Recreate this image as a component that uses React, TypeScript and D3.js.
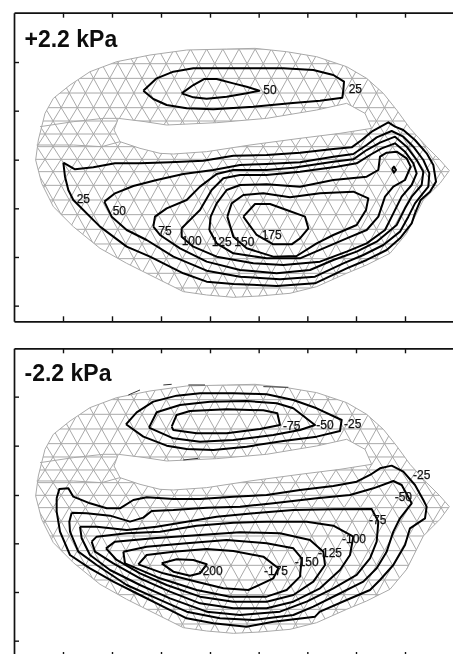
import { useEffect, useRef } from 'react';
import * as d3 from 'd3';

type Pt = [number, number];

// Everything is digitised in one arbitrary unit: the axes carry no numbers.
const xTicks = [189, 336, 483, 630, 776, 922, 1068, 1215];
const yTicksTop = [186, 332, 479, 625, 771, 917];
const yTicksBottom = [215, 362, 510, 655, 801, 947];

// Mesh outline and the slit between the two lobes
const meshOuter: Pt[] = [[107, 480], [115, 420], [135, 340], [160, 295], [210, 255], [270, 215], [350, 185], [450, 165], [560, 150], [680, 147], [765, 145], [860, 155], [950, 170], [1040, 200], [1100, 235], [1150, 280], [1190, 330], [1230, 385], [1280, 440], [1320, 480], [1348, 512], [1320, 550], [1270, 600], [1240, 660], [1220, 700], [1170, 760], [1100, 795], [1040, 820], [950, 860], [870, 880], [780, 888], [700, 892], [620, 885], [550, 875], [470, 835], [380, 790], [300, 745], [220, 680], [160, 620], [125, 550]];
const meshSlit: Pt[] = [[355, 355], [435, 365], [500, 375], [650, 368], [800, 355], [950, 330], [1040, 310], [1095, 340], [1115, 385], [1020, 400], [900, 415], [750, 435], [620, 455], [520, 462], [480, 460], [420, 445], [360, 425], [342, 390]];
const meshCurves: Pt[][] = [
	[[120, 380], [220, 365], [310, 355], [355, 355]],
	[[110, 435], [220, 435], [305, 440], [360, 425]],
];
const meshRows = [147, 191, 235, 279, 323, 363, 402, 440, 478, 515, 556, 600, 644, 688, 732, 776, 820, 864, 908];

// +2.2 kPa contours
const top25Upper: Pt[] = [[430, 272], [470, 235], [520, 215], [580, 205], [700, 205], [850, 205], [940, 210], [1000, 225], [1032, 245], [1030, 270], [1027, 293], [960, 302], [870, 310], [760, 320], [640, 328], [560, 325], [500, 315], [460, 297], [430, 272]];
const top50Upper: Pt[] = [[545, 280], [580, 255], [612, 237], [650, 237], [700, 250], [740, 260], [778, 272], [740, 280], [680, 290], [620, 296], [580, 292], [545, 280]];
const top25: Pt[] = [[190, 488], [225, 508], [280, 502], [345, 490], [420, 490], [510, 487], [610, 482], [700, 467], [800, 465], [900, 458], [1000, 447], [1055, 442], [1085, 420], [1115, 395], [1165, 367], [1185, 380], [1210, 390], [1245, 420], [1280, 460], [1300, 495], [1308, 545], [1290, 575], [1262, 600], [1245, 640], [1235, 670], [1200, 715], [1160, 750], [1100, 780], [1040, 805], [945, 850], [830, 858], [700, 852], [620, 845], [550, 820], [450, 770], [380, 740], [300, 680], [220, 600], [205, 570], [195, 530], [190, 488]];
const top50: Pt[] = [[313, 605], [345, 580], [400, 558], [470, 540], [550, 522], [640, 510], [720, 495], [800, 492], [900, 487], [1000, 470], [1060, 462], [1100, 435], [1130, 412], [1175, 393], [1210, 410], [1240, 440], [1270, 480], [1288, 520], [1285, 560], [1265, 585], [1245, 610], [1225, 650], [1200, 695], [1150, 735], [1090, 765], [1030, 790], [945, 830], [840, 838], [720, 830], [620, 812], [520, 770], [440, 720], [380, 690], [335, 650], [313, 605]];
const top75: Pt[] = [[460, 680], [465, 650], [500, 625], [560, 600], [600, 560], [650, 522], [700, 510], [800, 510], [880, 503], [1000, 485], [1060, 478], [1100, 450], [1140, 428], [1185, 410], [1220, 440], [1250, 480], [1270, 515], [1265, 555], [1235, 590], [1215, 625], [1190, 675], [1130, 725], [1070, 755], [1000, 780], [930, 810], [830, 820], [720, 810], [620, 785], [540, 745], [480, 705], [460, 680]];
const top100: Pt[] = [[545, 685], [580, 650], [600, 630], [635, 570], [670, 535], [720, 525], [800, 525], [900, 515], [1010, 500], [1070, 490], [1110, 465], [1145, 445], [1185, 430], [1215, 455], [1240, 490], [1250, 520], [1235, 555], [1205, 590], [1180, 640], [1155, 690], [1100, 730], [1040, 755], [960, 785], [850, 795], [760, 790], [650, 770], [580, 740], [545, 710], [545, 685]];
const top125: Pt[] = [[628, 690], [632, 650], [650, 610], [680, 570], [720, 555], [800, 553], [900, 560], [1000, 540], [1100, 530], [1135, 510], [1140, 470], [1160, 458], [1190, 455], [1220, 475], [1232, 500], [1215, 540], [1180, 560], [1155, 590], [1135, 650], [1100, 690], [1040, 715], [970, 745], [900, 775], [800, 775], [700, 760], [650, 730], [628, 690]];
const top150: Pt[] = [[682, 650], [695, 610], [730, 585], [790, 580], [870, 592], [960, 580], [1060, 575], [1105, 595], [1098, 630], [1070, 675], [1000, 705], [950, 730], [890, 768], [820, 770], [740, 745], [700, 710], [682, 650]];
const top175: Pt[] = [[730, 650], [765, 612], [810, 612], [860, 630], [915, 650], [925, 685], [900, 715], [875, 733], [820, 733], [770, 705], [730, 650]];
const topSpot: Pt[] = [[1176, 507], [1182, 500], [1188, 510], [1182, 518], [1176, 507]];
const topContours = [top25Upper, top50Upper, top25, top50, top75, top100, top125, top150, top175, topSpot];
const topLabels = ['25', '50', '25', '50', '75', '100', '125', '150', '175'];
const topLabelAt: Pt[] = [[1066, 265], [810, 270], [250, 597], [358, 632], [495, 692], [575, 723], [665, 725], [733, 725], [815, 705]];

// -2.2 kPa contours
const bot25Upper: Pt[] = [[378, 298], [410, 262], [460, 230], [530, 212], [600, 205], [700, 205], [800, 208], [880, 225], [950, 250], [1025, 285], [1020, 318], [950, 335], [850, 348], [740, 365], [640, 375], [560, 372], [500, 362], [430, 335], [378, 298]];
const bot50Upper: Pt[] = [[447, 308], [470, 262], [540, 240], [630, 230], [740, 228], [830, 235], [880, 250], [945, 300], [900, 315], [820, 330], [700, 345], [600, 350], [520, 340], [447, 308]];
const bot75Upper: Pt[] = [[515, 305], [530, 270], [570, 258], [680, 253], [790, 256], [832, 265], [840, 300], [780, 312], [680, 325], [590, 325], [520, 315], [515, 305]];
const bot25: Pt[] = [[170, 520], [178, 492], [205, 490], [220, 515], [270, 535], [320, 550], [360, 550], [400, 525], [440, 517], [520, 522], [600, 522], [700, 515], [800, 510], [900, 495], [1000, 483], [1070, 470], [1110, 450], [1140, 430], [1175, 422], [1210, 440], [1245, 480], [1270, 525], [1280, 545], [1275, 580], [1230, 610], [1215, 660], [1180, 720], [1140, 765], [1110, 795], [1040, 825], [960, 860], [945, 875], [820, 890], [740, 905], [640, 895], [560, 880], [500, 850], [420, 810], [340, 770], [270, 730], [210, 690], [180, 620], [170, 560], [170, 520]];
const bot50: Pt[] = [[215, 563], [260, 565], [330, 572], [390, 590], [430, 578], [455, 558], [520, 555], [620, 548], [720, 545], [820, 535], [950, 520], [1050, 510], [1120, 490], [1180, 468], [1205, 480], [1235, 535], [1200, 580], [1180, 620], [1160, 680], [1130, 730], [1090, 770], [1010, 810], [940, 845], [880, 870], [760, 885], [660, 880], [560, 860], [470, 820], [380, 780], [290, 720], [235, 680], [210, 620], [208, 590], [215, 563]];
const bot75: Pt[] = [[240, 605], [290, 605], [380, 615], [470, 605], [560, 590], [650, 575], [760, 565], [880, 555], [1000, 553], [1115, 552], [1135, 590], [1130, 650], [1110, 700], [1070, 750], [1000, 790], [920, 830], [840, 860], [720, 870], [620, 860], [510, 820], [420, 780], [330, 735], [270, 690], [245, 640], [240, 605]];
const bot100: Pt[] = [[275, 650], [290, 635], [380, 625], [480, 620], [590, 602], [700, 593], [800, 590], [920, 590], [1000, 602], [1060, 635], [1050, 690], [1020, 735], [960, 790], [880, 830], [800, 850], [700, 850], [600, 835], [510, 800], [420, 760], [340, 715], [285, 680], [275, 650]];
const bot125: Pt[] = [[318, 670], [345, 650], [460, 640], [600, 630], [720, 622], [840, 625], [930, 645], [970, 680], [975, 720], [940, 770], [880, 810], [800, 830], [700, 830], [600, 815], [500, 780], [420, 745], [350, 705], [318, 670]];
const bot150: Pt[] = [[370, 680], [440, 665], [560, 655], [680, 645], [800, 655], [880, 670], [905, 700], [900, 755], [860, 795], [800, 815], [690, 815], [590, 795], [480, 760], [375, 715], [370, 680]];
const bot175: Pt[] = [[415, 718], [440, 690], [520, 680], [620, 672], [700, 678], [790, 695], [835, 730], [820, 760], [745, 795], [670, 790], [590, 770], [490, 745], [415, 718]];
const bot200: Pt[] = [[485, 715], [530, 703], [580, 705], [620, 718], [600, 745], [570, 752], [520, 740], [485, 715]];
const botStray: Pt[][] = [[[385, 210], [420, 195]], [[490, 180], [515, 178]], [[565, 180], [615, 180]], [[790, 185], [865, 187]], [[550, 405], [595, 400]]];
const botContours = [bot25Upper, bot50Upper, bot75Upper, bot25, bot50, bot75, bot100, bot125, bot150, bot175, bot200];
const botLabels = ['-25', '-50', '-75', '-25', '-50', '-75', '-100', '-125', '-150', '-175', '-200'];
const botLabelAt: Pt[] = [[1058, 296], [975, 300], [875, 302], [1265, 448], [1210, 515], [1133, 585], [1062, 642], [990, 682], [920, 710], [828, 738], [632, 737]];

const FONT = '"Liberation Sans", Arial, sans-serif';
const MESH = '#a9a9a9';

export default function App() {
	const svgRef = useRef<SVGSVGElement>(null);

	useEffect(() => {
		if (!svgRef.current) return;
		const svg = d3.select(svgRef.current);
		svg.selectAll('*').remove();

		const defs = svg.append('defs');
		defs.append('filter').attr('id', 'soft').append('feGaussianBlur').attr('stdDeviation', 0.35);

		const x = d3.scaleLinear().domain([42, 1359]).range([14, 453]);

		const drawPanel = (
			id: string,
			yDomain: [number, number],
			yRange: [number, number],
			yTicks: number[],
			meshShift: number,
			title: string,
			titleBase: number,
			contours: Pt[][],
			labels: string[],
			labelAt: Pt[],
			stray: Pt[][]
		) => {
			const y = d3.scaleLinear().domain(yDomain).range(yRange);
			const g = svg.append('g').attr('filter', 'url(#soft)');
			const path = d3.line<Pt>().x((d) => x(d[0])).y((d) => y(d[1]));
			const meshPath = d3.line<Pt>().x((d) => x(d[0])).y((d) => y(d[1] + meshShift));
			const meshD = (pts: Pt[]) => meshPath(pts.concat([pts[0]]));

			// Mesh: triangular lattice clipped to the outline minus the slit
			defs
				.append('clipPath')
				.attr('id', `clip-${id}`)
				.append('path')
				.attr('clip-rule', 'evenodd')
				.attr('d', `${meshD(meshOuter)} ${meshD(meshSlit)}`);

			const colW = 48.5;
			const lattice = d3.path();
			meshRows.forEach((row, r) => {
				const ry = row + meshShift;
				lattice.moveTo(x(42), y(ry));
				lattice.lineTo(x(1400), y(ry));
				const next = meshRows[r + 1];
				if (next === undefined) return;
				const off = r % 2 ? colW / 2 : 0;
				d3.range(0, 29).forEach((c) => {
					const cx = 38 + c * colW + off;
					lattice.moveTo(x(cx), y(ry));
					lattice.lineTo(x(cx - colW / 2), y(next + meshShift));
					lattice.moveTo(x(cx), y(ry));
					lattice.lineTo(x(cx + colW / 2), y(next + meshShift));
				});
			});
			g.append('path')
				.attr('d', lattice.toString())
				.attr('clip-path', `url(#clip-${id})`)
				.attr('fill', 'none')
				.attr('stroke', MESH)
				.attr('stroke-width', 1);

			g.append('path')
				.attr('d', `${meshD(meshOuter)} ${meshD(meshSlit)}`)
				.attr('fill', 'none')
				.attr('stroke', MESH)
				.attr('stroke-width', 1);
			meshCurves.forEach((c) => {
				g.append('path').attr('d', meshPath(c)).attr('fill', 'none').attr('stroke', MESH).attr('stroke-width', 1);
			});
			stray.forEach((s) => {
				g.append('path').attr('d', path(s)).attr('fill', 'none').attr('stroke', '#333').attr('stroke-width', 1);
			});

			// Contours
			contours.forEach((c) => {
				g.append('path')
					.attr('d', path(c))
					.attr('fill', 'none')
					.attr('stroke', '#000')
					.attr('stroke-width', 2)
					.attr('stroke-linejoin', 'round');
			});

			g.selectAll('.label')
				.data(labels)
				.enter()
				.append('text')
				.attr('x', (_, i) => x(labelAt[i][0]))
				.attr('y', (_, i) => y(labelAt[i][1]))
				.attr('dy', '0.36em')
				.attr('text-anchor', 'middle')
				.attr('font-family', FONT)
				.attr('font-size', 12)
				.attr('fill', '#111')
				.attr('stroke', '#111')
				.attr('stroke-width', 0.25)
				.text((d) => d);

			g.append('text')
				.attr('x', 24.5)
				.attr('y', titleBase)
				.attr('font-family', FONT)
				.attr('font-weight', 'bold')
				.attr('font-size', 23)
				.attr('fill', '#111')
				.text(title);

			// Frame and inward ticks
			const noText = () => '';
			const frame = svg.append('g');
			frame
				.append('g')
				.attr('transform', `translate(0,${yRange[0]})`)
				.call(d3.axisTop(x).tickValues(xTicks).tickSize(-5).tickSizeOuter(0).tickFormat(noText));
			frame
				.append('g')
				.attr('transform', `translate(0,${yRange[1]})`)
				.call(d3.axisBottom(x).tickValues(xTicks).tickSize(-5).tickSizeOuter(0).tickFormat(noText));
			frame
				.append('g')
				.attr('transform', `translate(${x.range()[0]},0)`)
				.call(d3.axisLeft(y).tickValues(yTicks).tickSize(-5).tickSizeOuter(0).tickFormat(noText));
			frame.selectAll('path,line').attr('stroke', '#111').attr('stroke-width', 1.4);
			frame.selectAll('.domain').attr('stroke-width', 1.7);
		};

		drawPanel('top', [38, 964], [12.7, 321.3], yTicksTop, 0, '+2.2 kPa', 46.5, topContours, topLabels, topLabelAt, []);
		drawPanel('bot', [70, 996], [348.3, 657], yTicksBottom, 33, '-2.2 kPa', 381, botContours, botLabels, botLabelAt, botStray);
	}, []);

	return <svg ref={svgRef} width={453} height={654} style={{ position: 'absolute', left: 0, top: 0, display: 'block', background: '#fff' }}></svg>;
}
